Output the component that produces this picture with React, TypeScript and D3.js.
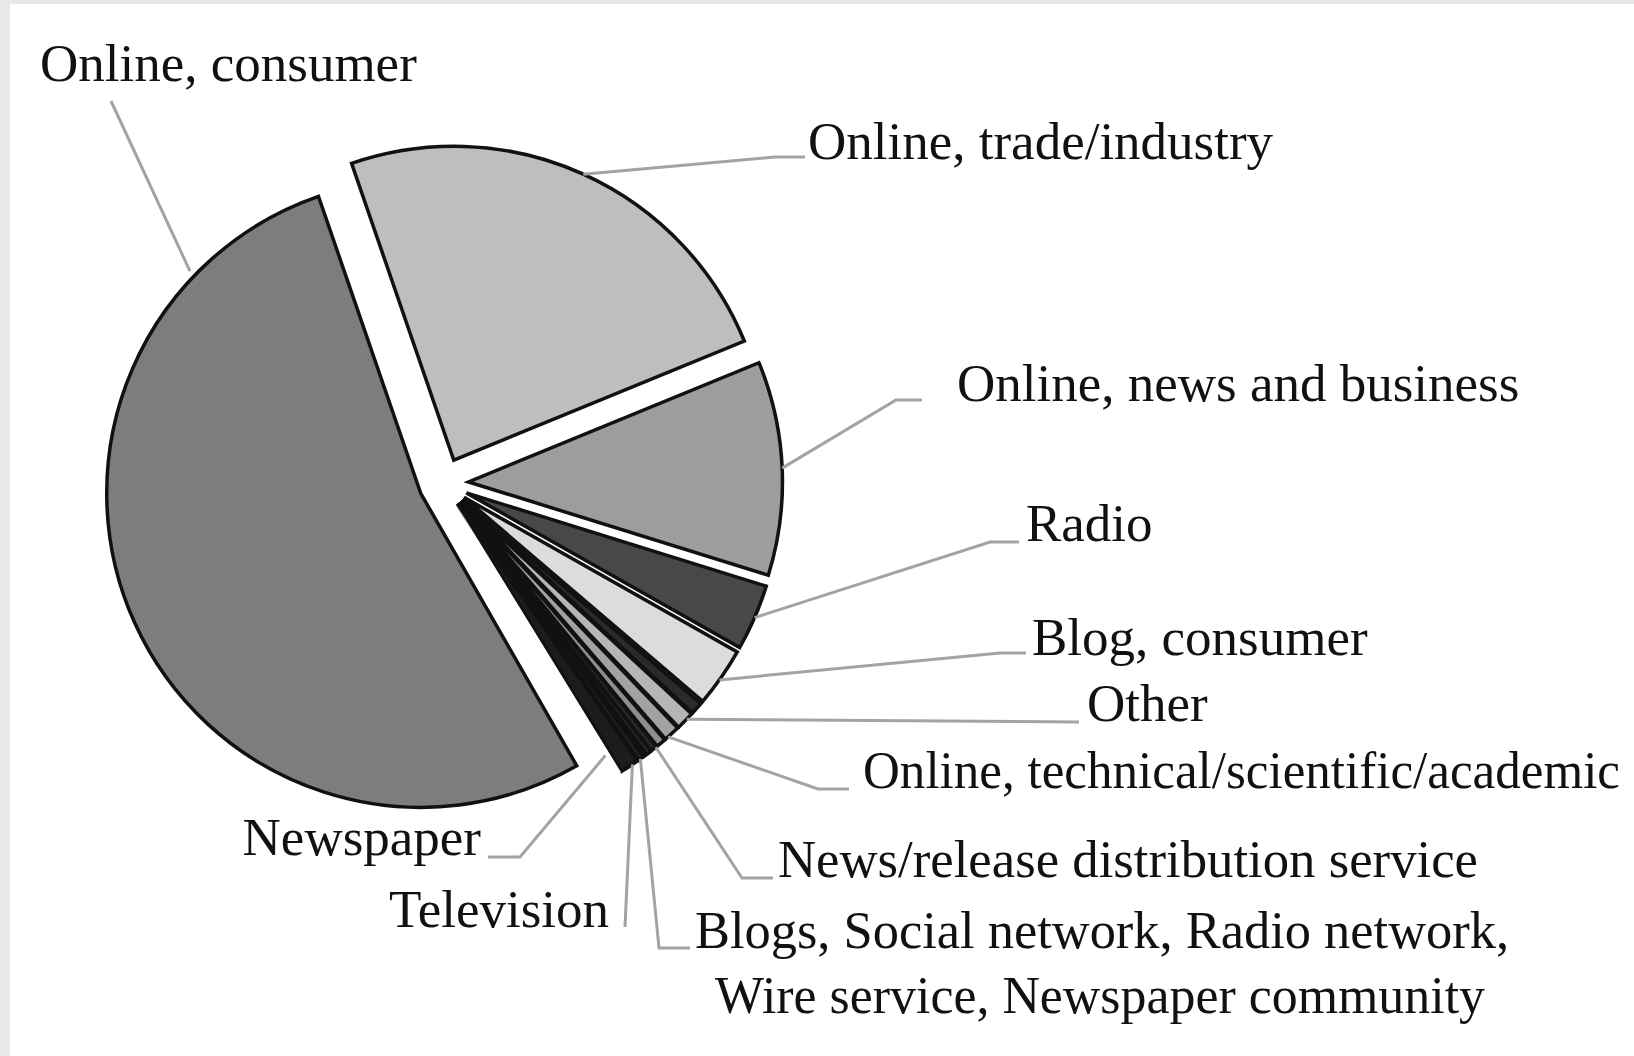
import React from "react";
import * as d3 from "d3";

// ---- data (% of coverage) ----
const CATEGORIES = [
  "Online, consumer",
  "Online, trade/industry",
  "Online, news and business",
  "Radio",
  "Blog, consumer",
  "Other",
  "Online, technical/scientific/academic",
  "News/release distribution service",
  "Blogs",
  "Social network",
  "Radio network",
  "Wire service",
  "Newspaper community",
  "Television",
  "Newspaper",
];
const VALUES = [53.0, 24.08, 11.0, 3.39, 3.06, 0.64, 0.94, 0.83, 0.5, 0.36, 0.25, 0.17, 0.31, 0.97, 0.5];
const COLORS = [
  "#7b7d7f", "#bcbec0", "#9b9d9f", "#47484a", "#dcdcde",
  "#2a2b2d", "#b4b6b8", "#a0a2a4", "#8c8e90", "#262626",
  "#333333", "#ffffff", "#222222", "#1c1c1c", "#ffffff",
];
const STROKES = [
  "#111", "#111", "#111", "#111", "#111",
  "#111", "#111", "#111", "#111", "#111",
  "#111", "#111", "#111", "#111", "none",
];

// ---- label layout ----
type Lab = {
  lines: string[];
  x: number;
  y: number;
  anchor: "start" | "end";
  slices: number[];
  t: number; // where the leader meets the slice group (fraction of its angular span)
  path: [number, number][];
  reach: number;
  fit?: number[];
  fs?: number;
};
const LABELS: Lab[] = [
  { lines: ["Online, consumer"], x: 40, y: 81, anchor: "start", slices: [0], t: 0.858, path: [[111, 101]], reach: 1.02 },
  { lines: ["Online, trade/industry"], x: 808, y: 159, anchor: "start", slices: [1], t: 0.5, path: [[805, 157], [775, 157]], reach: 1.0 },
  { lines: ["Online, news and business"], x: 957, y: 401, anchor: "start", slices: [2], t: 0.5, path: [[922, 400], [896, 400]], reach: 1.0 },
  { lines: ["Radio"], x: 1026, y: 541, anchor: "start", slices: [3], t: 0.5, path: [[1019, 542], [990, 542]], reach: 1.0 },
  { lines: ["Blog, consumer"], x: 1032, y: 655, anchor: "start", slices: [4], t: 0.55, path: [[1026, 653], [1000, 653]], reach: 1.0 },
  { lines: ["Other"], x: 1087, y: 721, anchor: "start", slices: [5], t: 1.57, path: [[1079, 722]], reach: 1.0 },
  { lines: ["Online, technical/scientific/academic"], x: 863, y: 788, anchor: "start", slices: [6], t: 1.7, path: [[849, 789], [818, 789]], reach: 1.0, fit: [757], fs: 52 },
  { lines: ["News/release distribution service"], x: 778, y: 877, anchor: "start", slices: [7], t: 1.67, path: [[773, 878], [742, 878]], reach: 1.0, fit: [700] },
  { lines: ["Blogs, Social network, Radio network,", "Wire service, Newspaper community"], x: 695, y: 948, anchor: "start", slices: [8, 9, 10, 11, 12], t: 0.93, path: [[690, 948], [659, 948]], reach: 1.0, fit: [814, 770] },
  { lines: ["Television"], x: 609, y: 927, anchor: "end", slices: [13], t: 0.34, path: [[625, 927]], reach: 1.0 },
  { lines: ["Newspaper"], x: 481, y: 855, anchor: "end", slices: [14], t: 0.5, path: [[488, 857], [520, 857]], reach: 0.93 },
];

const W = 1634;
const H = 1056;
const CX = 443.5;
const CY = 483;
const R = 314;
const EXPLODE = 25;
const START = (150.2 * Math.PI) / 180;
const FONT = "'Liberation Serif', 'Times New Roman', serif";
const FS = 53;

export default function App() {
  const pie = d3
    .pie<number>()
    .sort(null)
    .value((d) => d)
    .startAngle(START)
    .endAngle(START + 2 * Math.PI);
  const arcs = pie(VALUES);
  const arcGen = d3.arc<d3.PieArcDatum<number>>().innerRadius(0).outerRadius(R);

  const offset = (a: d3.PieArcDatum<number>) => {
    const m = (a.startAngle + a.endAngle) / 2;
    return [EXPLODE * Math.sin(m), -EXPLODE * Math.cos(m)];
  };

  const leaderEnd = (lab: Lab) => {
    const first = arcs[lab.slices[0]];
    const last = arcs[lab.slices[lab.slices.length - 1]];
    const a0 = first.startAngle;
    const a1 = last.endAngle;
    const ang = a0 + (a1 - a0) * lab.t;
    const host = arcs.find((a) => ang >= a.startAngle && ang <= a.endAngle) || first;
    const [ox, oy] = offset(host);
    return [CX + ox + R * lab.reach * Math.sin(ang), CY + oy - R * lab.reach * Math.cos(ang)];
  };

  const line = d3.line();

  return (
    <div style={{ position: "absolute", left: 0, top: 0, width: W, height: H }}>
      <svg width={W} height={H} style={{ display: "block" }}>
        <rect x={0} y={0} width={W} height={H} fill="#e8e8e8" />
        <rect x={10} y={4} width={W - 10} height={H - 4} fill="#ffffff" />
        <g>
          {arcs.map((a, i) => {
            const [ox, oy] = offset(a);
            return (
              <path
                key={CATEGORIES[i]}
                d={arcGen(a) || ""}
                transform={`translate(${CX + ox},${CY + oy})`}
                fill={COLORS[i]}
                stroke={STROKES[i]}
                strokeWidth={3.5}
                strokeLinejoin="miter"
              />
            );
          })}
        </g>
        <g fill="none" stroke="#a3a3a3" strokeWidth={3}>
          {LABELS.map((lab, i) => {
            const pts = [...lab.path, leaderEnd(lab)] as [number, number][];
            return <path key={i} d={line(pts) || ""} />;
          })}
        </g>
        <g fontFamily={FONT} fill="#111">
          {LABELS.map((lab, i) =>
            lab.lines.map((l, j) => (
              <text
                key={`${i}-${j}`}
                x={lab.x + (j > 0 ? 20 : 0)}
                y={lab.y + j * 65}
                fontSize={lab.fs || FS}
                textAnchor={lab.anchor}
                textLength={lab.fit ? lab.fit[j] : undefined}
                lengthAdjust={lab.fit ? "spacingAndGlyphs" : undefined}
              >
                {l}
              </text>
            ))
          )}
        </g>
      </svg>
    </div>
  );
}
